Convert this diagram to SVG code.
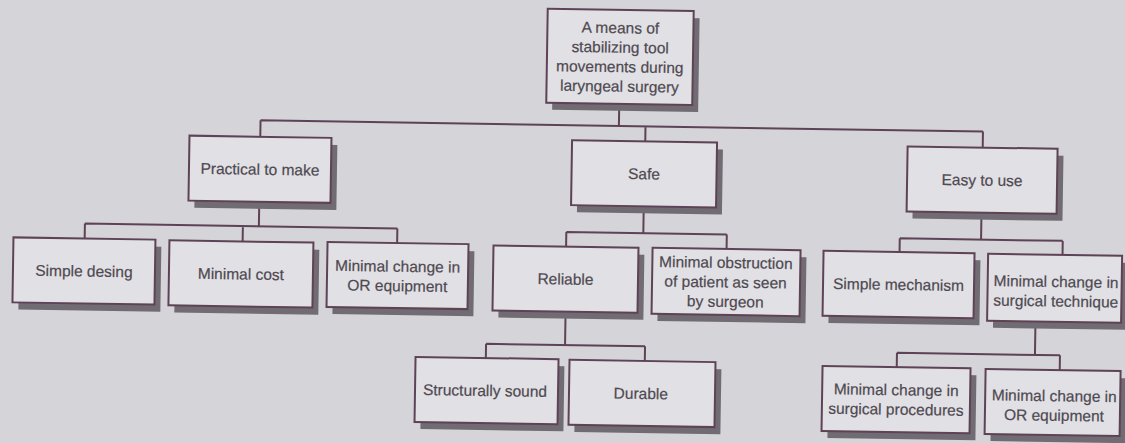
<svg xmlns="http://www.w3.org/2000/svg" width="1125" height="443" viewBox="0 0 1125 443">
  <style>
    .bg { fill: #d5d4d9; }
    .shadow { fill: #716b73; }
    .box { fill: #e1e0e4; stroke: #5e4356; stroke-width: 2; }
    .label { font-family: "Liberation Sans", Arial, sans-serif; font-size: 15.5px; fill: #4e4951; stroke: #4e4951; stroke-width: 0.2; text-anchor: middle; }
    .wire { fill: none; stroke: #5e4356; stroke-width: 2; }
  </style>

  <rect class="bg" x="0" y="0" width="1125" height="443"/>

  <!-- whole tree sits slightly tilted on the page -->
  <g transform="rotate(0.9 562 221)">

    <g id="connectors">
      <!-- root to level 1 -->
      <path class="wire" d="M617.4 103 V125 M259 125 H981.5 M259 125 V141.5 M644 125 V140 M981.5 125 V141"/>
      <!-- Practical to make -->
      <path class="wire" d="M259 206.5 V231 M85 231 H397.5 M85 231 V246 M243 231 V246.5 M397.5 231 V245.6"/>
      <!-- Safe -->
      <path class="wire" d="M643.5 205 V232 M566.5 232 H727 M566.5 232 V246.5 M727 232 V246.4"/>
      <!-- Easy to use -->
      <path class="wire" d="M981.3 206 V233 M900 233 H1063 M900 233 V246.7 M1063 233 V247"/>
      <!-- Reliable -->
      <path class="wire" d="M567 311.5 V345 M488 345 H647 M488 345 V359.2 M647 345 V359.7"/>
      <!-- Minimal change in surgical technique -->
      <path class="wire" d="M1037 314 V347.5 M899 347.5 H1062 M899 347.5 V361.8 M1062 347.5 V362.3"/>
    </g>

    <g id="n-root">
      <rect class="shadow" x="550.4" y="16" width="146" height="94"/>
      <rect class="box" x="544.4" y="9" width="146" height="94"/>
      <text class="label" x="617.4" y="32.3">A means of</text>
      <text class="label" x="617.4" y="51.8">stabilizing tool</text>
      <text class="label" x="617.4" y="71.3">movements during</text>
      <text class="label" x="617.4" y="90.8">laryngeal surgery</text>
    </g>

    <g id="n-practical">
      <rect class="shadow" x="194.2" y="148.5" width="142" height="65"/>
      <rect class="box" x="188.2" y="141.5" width="142" height="65"/>
      <text class="label" x="259.2" y="179.5">Practical to make</text>
    </g>

    <g id="n-safe">
      <rect class="shadow" x="576.8" y="147" width="145" height="65"/>
      <rect class="box" x="570.8" y="140" width="145" height="65"/>
      <text class="label" x="643.3" y="178">Safe</text>
    </g>

    <g id="n-easy">
      <rect class="shadow" x="912.4" y="148" width="150" height="65"/>
      <rect class="box" x="906.4" y="141" width="150" height="65"/>
      <text class="label" x="981.4" y="179">Easy to use</text>
    </g>

    <g id="n-simple-design">
      <rect class="shadow" x="19.8" y="253" width="142" height="65"/>
      <rect class="box" x="13.8" y="246" width="142" height="65"/>
      <text class="label" x="84.8" y="284">Simple desing</text>
    </g>

    <g id="n-minimal-cost">
      <rect class="shadow" x="175.8" y="253.5" width="144" height="65"/>
      <rect class="box" x="169.8" y="246.5" width="144" height="65"/>
      <text class="label" x="241.8" y="284.5">Minimal cost</text>
    </g>

    <g id="n-or-equipment-1">
      <rect class="shadow" x="333.9" y="252.6" width="141" height="65"/>
      <rect class="box" x="327.9" y="245.6" width="141" height="65"/>
      <text class="label" x="398.4" y="274.3">Minimal change in</text>
      <text class="label" x="398.4" y="293.8">OR equipment</text>
    </g>

    <g id="n-reliable">
      <rect class="shadow" x="499.9" y="253.5" width="145" height="65"/>
      <rect class="box" x="493.9" y="246.5" width="145" height="65"/>
      <text class="label" x="566.4" y="284.5">Reliable</text>
    </g>

    <g id="n-obstruction">
      <rect class="shadow" x="659" y="253.4" width="148" height="66"/>
      <rect class="box" x="653" y="246.4" width="148" height="66"/>
      <text class="label" x="726.5" y="265.4">Minimal obstruction</text>
      <text class="label" x="726.5" y="284.9">of patient as seen</text>
      <text class="label" x="726.5" y="304.4">by surgeon</text>
    </g>

    <g id="n-mechanism">
      <rect class="shadow" x="830" y="253.7" width="151" height="65"/>
      <rect class="box" x="824" y="246.7" width="151" height="65"/>
      <text class="label" x="899.5" y="284.7">Simple mechanism</text>
    </g>

    <g id="n-technique">
      <rect class="shadow" x="994.6" y="254" width="134" height="67"/>
      <rect class="box" x="988.6" y="247" width="134" height="67"/>
      <text class="label" x="1057" y="279.3">Minimal change in</text>
      <text class="label" x="1057" y="298.8">surgical technique</text>
    </g>

    <g id="n-structural">
      <rect class="shadow" x="423.7" y="366.2" width="143" height="65"/>
      <rect class="box" x="417.7" y="359.2" width="143" height="65"/>
      <text class="label" x="487.7" y="397.2">Structurally sound</text>
    </g>

    <g id="n-durable">
      <rect class="shadow" x="577.7" y="366.7" width="146" height="65"/>
      <rect class="box" x="571.7" y="359.7" width="146" height="65"/>
      <text class="label" x="643.5" y="397.7">Durable</text>
    </g>

    <g id="n-procedures">
      <rect class="shadow" x="830.8" y="368.8" width="148" height="65"/>
      <rect class="box" x="824.8" y="361.8" width="148" height="65"/>
      <text class="label" x="898.8" y="390">Minimal change in</text>
      <text class="label" x="898.8" y="409.5">surgical procedures</text>
    </g>

    <g id="n-or-equipment-2">
      <rect class="shadow" x="993.9" y="369.3" width="135" height="65"/>
      <rect class="box" x="987.9" y="362.3" width="135" height="65"/>
      <text class="label" x="1057" y="393.5">Minimal change in</text>
      <text class="label" x="1057" y="413">OR equipment</text>
    </g>

  </g>
</svg>
